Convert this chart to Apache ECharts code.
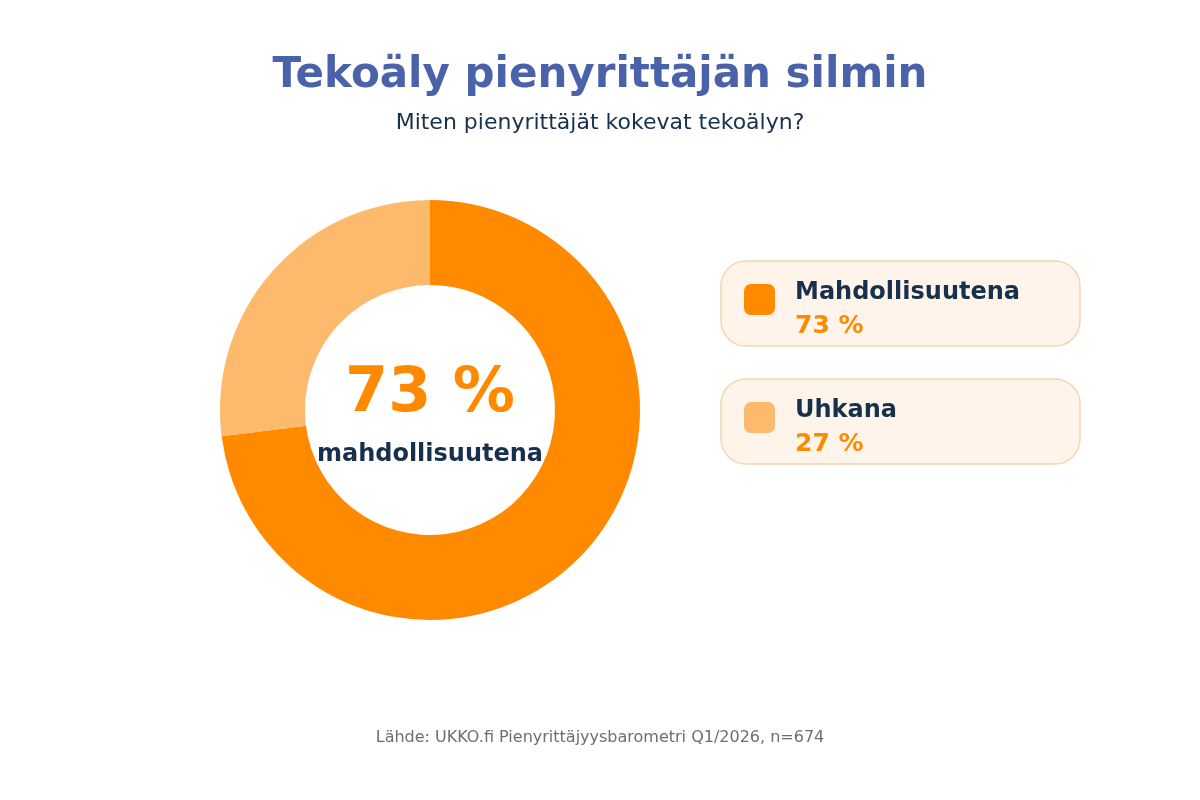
<!DOCTYPE html>
<html>
<head>
<meta charset="utf-8">
<script src="https://cdn.jsdelivr.net/npm/echarts@6/dist/echarts.min.js"></script>
<style>
  html, body { margin: 0; padding: 0; background: #ffffff; }
  #chart { width: 1200px; height: 800px; }
</style>
</head>
<body>
<div id="chart"></div>
<script>
// ==========================================================================
// Data
// ==========================================================================
var categories = ['Mahdollisuutena', 'Uhkana'];
var shares = [73, 27];
var sliceColors = ['#ff8a00', '#fdba6c'];
var centerCaption = 'mahdollisuutena';

var titleText = 'Tekoäly pienyrittäjän silmin';
var subtitleText = 'Miten pienyrittäjät kokevat tekoälyn?';
var sourceText = 'Lähde: UKKO.fi Pienyrittäjyysbarometri Q1/2026, n=674';

var FONT = 'DejaVu Sans';
var NAVY = '#17314d';
var ORANGE = '#ff8a00';

var chart = echarts.init(document.getElementById('chart'));

// Legend cards on the right (one per category)
var legendCards = categories.map(function (name, i) {
    var top = 261 + i * 118;
    return {
        type: 'group',
        x: 721,
        y: top,
        children: [
            {
                type: 'rect',
                shape: { x: 0, y: 0, width: 359, height: 85, r: 25 },
                style: { fill: '#fff4e9', stroke: '#f4d6b2', lineWidth: 1.5 }
            },
            {
                type: 'rect',
                shape: { x: 23, y: 23, width: 31, height: 31, r: 7 },
                style: { fill: sliceColors[i] }
            },
            {
                type: 'text',
                x: 74,
                y: 32,
                style: {
                    text: name,
                    fontFamily: FONT,
                    fontSize: 24,
                    fontWeight: 'bold',
                    fill: NAVY,
                    verticalAlign: 'middle'
                }
            },
            {
                type: 'text',
                x: 74,
                y: 65,
                style: {
                    text: shares[i] + ' %',
                    fontFamily: FONT,
                    fontSize: 25,
                    fontWeight: 'bold',
                    fill: ORANGE,
                    verticalAlign: 'middle'
                }
            }
        ]
    };
});

var option = {
    backgroundColor: '#ffffff',
    animation: false,
    textStyle: { fontFamily: FONT },
    title: [
        {
            text: titleText,
            left: 'center',
            top: 50,
            textStyle: { fontFamily: FONT, fontSize: 42, fontWeight: 'bold', color: '#4a62aa' }
        },
        {
            text: subtitleText,
            left: 'center',
            top: 107,
            textStyle: { fontFamily: FONT, fontSize: 22, fontWeight: 'normal', color: NAVY }
        },
        {
            text: sourceText,
            left: 'center',
            top: 725,
            textStyle: { fontFamily: FONT, fontSize: 16, fontWeight: 'normal', color: '#6e6e6e' }
        }
    ],
    series: [
        {
            type: 'pie',
            center: [430, 410],
            radius: [125, 210],
            startAngle: 90,
            clockwise: true,
            silent: true,
            label: { show: false },
            labelLine: { show: false },
            emphasis: { disabled: true },
            data: categories.map(function (name, i) {
                var item = {
                    name: name,
                    value: shares[i],
                    itemStyle: { color: sliceColors[i] }
                };
                // the leading share goes in the hole of the donut
                if (i === 0) {
                    item.label = {
                        show: true,
                        position: 'center',
                        formatter: '{big|' + shares[i] + ' %}\n{cap|' + centerCaption + '}',
                        rich: {
                            big: { fontFamily: FONT, fontSize: 62, fontWeight: 'bold', color: ORANGE, lineHeight: 90 },
                            cap: { fontFamily: FONT, fontSize: 24, fontWeight: 'bold', color: NAVY, lineHeight: 30 }
                        }
                    };
                }
                return item;
            })
        }
    ],
    graphic: legendCards
};

chart.setOption(option);
</script>
</body>
</html>
